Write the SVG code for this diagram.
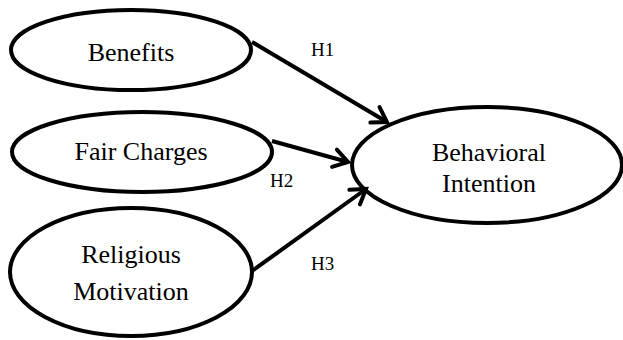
<svg xmlns="http://www.w3.org/2000/svg" width="623" height="340" viewBox="0 0 623 340">
<style>
.node ellipse{fill:#fff;stroke:#000;stroke-width:4}
.node text{font-family:"Liberation Serif","Times New Roman",serif;font-size:26px;fill:#000;text-anchor:middle}
.edge{stroke:#000;stroke-width:4;fill:none;marker-end:url(#arr)}
.lbl{font-family:"Liberation Serif","Times New Roman",serif;font-size:19px;fill:#000}
</style>
<defs>
<marker id="arr" markerUnits="userSpaceOnUse" viewBox="-18 -12 22 24" refX="0" refY="0" markerWidth="22" markerHeight="24" orient="auto">
<path d="M-14,-9 L0,0 L-14,9" fill="none" stroke="#000" stroke-width="4" stroke-linecap="round" stroke-linejoin="miter"/>
</marker>
</defs>
<rect width="623" height="340" fill="#fff"/>
<g id="n-benefits" class="node">
<ellipse cx="131" cy="50" rx="120" ry="40"/>
<text x="131" y="61">Benefits</text>
</g>
<g id="n-fair" class="node">
<ellipse cx="142" cy="152" rx="130" ry="40"/>
<text x="141" y="160">Fair Charges</text>
</g>
<g id="n-religious" class="node">
<ellipse cx="131" cy="272" rx="121" ry="64"/>
<text x="131" y="263">Religious</text>
<text x="131" y="300">Motivation</text>
</g>
<g id="n-behavioral" class="node">
<ellipse cx="487" cy="165" rx="135" ry="58"/>
<text x="489" y="161">Behavioral</text>
<text x="489" y="192">Intention</text>
</g>
<g id="connectors">
<line class="edge" x1="252" y1="42" x2="387" y2="122"/>
<line class="edge" x1="272" y1="141" x2="348" y2="162"/>
<line class="edge" x1="252" y1="271" x2="366" y2="189"/>
<text class="lbl" x="311" y="56">H1</text>
<text class="lbl" x="270" y="187">H2</text>
<text class="lbl" x="311" y="270">H3</text>
</g>
</svg>
